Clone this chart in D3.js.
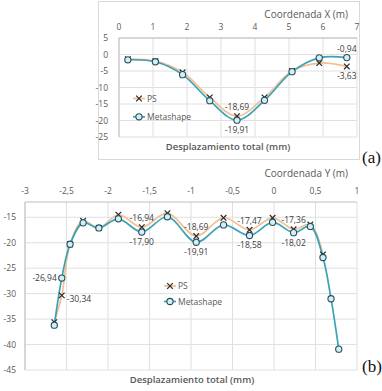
<!DOCTYPE html>
<html>
<head>
<meta charset="utf-8">
<script src="https://cdn.jsdelivr.net/npm/d3@7"></script>
<style>
  body { margin: 0; background: #fff; }
  text { font-family: "Open Sans", sans-serif; }
</style>
</head>
<body>
<div id="chartVis"></div>
<script>
// chart (a) - Coordenada X
const xA = [0.26, 1.07, 1.87, 2.67, 3.47, 4.28, 5.09, 5.89, 6.70];
const psA = [-1.4, -2.0, -5.4, -13.0, -18.69, -13.0, -5.0, -2.6, -3.63];
const metA = [-1.6, -2.2, -6.1, -14.0, -19.91, -13.9, -5.2, -1.0, -0.94];
const xTicksA = [0, 1, 2, 3, 4, 5, 6, 7];
const yTicksA = [5, 0, -5, -10, -15, -20, -25];

// chart (b) - Coordenada Y
const xB = [-2.647, -2.557, -2.457, -2.30, -2.11, -1.875, -1.593, -1.284, -0.937, -0.608, -0.295, -0.017, 0.236, 0.438, 0.59, 0.687, 0.78];
const psB = [-35.6, -30.34, -20.3, -15.7, -17.1, -14.5, -16.94, -14.2, -18.69, -15.1, -17.47, -15.1, -17.36, -16.4, -22.3];
const metB = [-36.2, -26.94, -20.3, -16.1, -17.1, -15.3, -17.90, -14.9, -19.91, -16.5, -18.58, -16.0, -18.02, -16.8, -22.9, -31.0, -40.9];
const xTicksB = [-3, -2.5, -2, -1.5, -1, -0.5, 0, 0.5, 1];
const yTicksB = [-15, -20, -25, -30, -35, -40, -45];

const seriesNames = ["PS", "Metashape"];

// labels: [series, index, text, position]
const labelsA = [
  ["ps", 4, "-18,69", "up"], ["met", 4, "-19,91", "down"],
  ["met", 8, "-0,94", "up"], ["ps", 8, "-3,63", "down"]
];
const labelsB = [
  ["met", 1, "-26,94", "left"], ["ps", 1, "-30,34", "right"],
  ["ps", 6, "-16,94", "up"], ["met", 6, "-17,90", "down"],
  ["ps", 8, "-18,69", "up"], ["met", 8, "-19,91", "down"],
  ["ps", 10, "-17,47", "up"], ["met", 10, "-18,58", "down"],
  ["ps", 12, "-17,36", "up"], ["met", 12, "-18,02", "down"]
];

var width = 382, height = 391;
var svg = d3.select("#chartVis").append("svg")
  .attr("width", width).attr("height", height);

const psColor = "#f3bf93";
const metColor = "#3aa3b6";
const gridColor = "#e0e0e0";
const textColor = "#595959";
const fmt = d => String(d).replace(".", ",");

function drawChart(cfg) {
  const g = svg.append("g");
  const x = d3.scaleLinear().domain(cfg.xDomain).range(cfg.xRange);
  const y = d3.scaleLinear().domain(cfg.yDomain).range(cfg.yRange);

  if (cfg.box) {
    g.append("rect").attr("x", cfg.box[0]).attr("y", cfg.box[1])
      .attr("width", cfg.box[2]).attr("height", cfg.box[3])
      .attr("fill", "none").attr("stroke", "#d9d9d9");
  }

  // gridlines
  g.append("g").selectAll("line").data(cfg.xTicks).enter().append("line")
    .attr("x1", d => x(d)).attr("x2", d => x(d))
    .attr("y1", cfg.yRange[1]).attr("y2", cfg.yRange[0])
    .attr("stroke", gridColor);
  g.append("g").selectAll("line").data(cfg.yTicks).enter().append("line")
    .attr("x1", cfg.xRange[0]).attr("x2", cfg.xRange[1])
    .attr("y1", d => y(d)).attr("y2", d => y(d))
    .attr("stroke", gridColor);
  // axis lines (horizontal axis on top, vertical on left)
  g.append("line").attr("x1", cfg.xRange[0]).attr("x2", cfg.xRange[1])
    .attr("y1", cfg.yRange[1]).attr("y2", cfg.yRange[1]).attr("stroke", "#bfbfbf");
  g.append("line").attr("x1", cfg.xRange[0]).attr("x2", cfg.xRange[0])
    .attr("y1", cfg.yRange[1]).attr("y2", cfg.yRange[0]).attr("stroke", "#bfbfbf");

  // tick labels
  g.append("g").selectAll("text").data(cfg.xTicks).enter().append("text")
    .attr("x", d => x(d)).attr("y", cfg.yRange[1] - 8)
    .attr("text-anchor", "middle").attr("font-size", 8.5).attr("fill", textColor)
    .text(fmt);
  g.append("g").selectAll("text").data(cfg.yTicks).enter().append("text")
    .attr("x", cfg.xRange[0] - cfg.yLabelGap).attr("y", d => y(d) + 3)
    .attr("text-anchor", "end").attr("font-size", 8.5).attr("fill", textColor)
    .text(fmt);

  // titles
  g.append("text").attr("x", cfg.xTitle[0]).attr("y", cfg.xTitle[1])
    .attr("text-anchor", "end").attr("font-size", 10).attr("fill", textColor)
    .text(cfg.xTitleText);
  g.append("text").attr("x", cfg.bTitle[0]).attr("y", cfg.bTitle[1])
    .attr("text-anchor", "middle").attr("font-size", 9.5).attr("font-weight", 600)
    .attr("fill", textColor).text("Desplazamiento total (mm)");

  const line = d3.line().defined(d => d[1] != null)
    .x(d => x(d[0])).y(d => y(d[1])).curve(d3.curveCatmullRom.alpha(0.5));
  const psPts = cfg.ps.map((v, i) => [cfg.xs[i], v]);
  const metPts = cfg.met.map((v, i) => [cfg.xs[i], v]);

  g.append("path").datum(psPts).attr("d", line)
    .attr("fill", "none").attr("stroke", psColor).attr("stroke-width", 1.7);
  g.append("path").datum(metPts).attr("d", line)
    .attr("fill", "none").attr("stroke", metColor).attr("stroke-width", 1.7);

  const cross = (sel) => sel.each(function(d) {
    const s = d3.select(this);
    s.append("line").attr("x1", -2.8).attr("y1", -2.8).attr("x2", 2.8).attr("y2", 2.8);
    s.append("line").attr("x1", -2.8).attr("y1", 2.8).attr("x2", 2.8).attr("y2", -2.8);
  }).attr("stroke", "#2b2b2b").attr("stroke-width", 1.2);

  g.append("g").selectAll("g").data(psPts).enter().append("g")
    .attr("transform", d => "translate(" + x(d[0]) + "," + y(d[1]) + ")")
    .call(cross);
  g.append("g").selectAll("circle").data(metPts).enter().append("circle")
    .attr("cx", d => x(d[0])).attr("cy", d => y(d[1])).attr("r", 3.1)
    .attr("fill", "#d6eef2").attr("stroke", "#24505e").attr("stroke-width", 1.1);

  // data labels
  cfg.labels.forEach(l => {
    const arr = l[0] === "ps" ? cfg.ps : cfg.met;
    const px = x(cfg.xs[l[1]]), py = y(arr[l[1]]);
    let tx = px, ty = py, anchor = "middle";
    if (l[3] === "up") ty = py - 6;
    if (l[3] === "down") ty = py + 13;
    if (l[3] === "left") { tx = px - 5; ty = py + 3; anchor = "end"; }
    if (l[3] === "right") { tx = px + 5; ty = py + 7; anchor = "start"; }
    g.append("text").attr("x", tx).attr("y", ty).attr("text-anchor", anchor)
      .attr("font-size", 8.5).attr("fill", "#404040").text(l[2]);
  });

  // legend
  const lg = g.append("g");
  seriesNames.forEach((name, i) => {
    const ly = cfg.legend[1] + i * cfg.legendGap;
    const lx = cfg.legend[0];
    lg.append("line").attr("x1", lx - 6).attr("x2", lx + 6).attr("y1", ly).attr("y2", ly)
      .attr("stroke", i === 0 ? psColor : metColor).attr("stroke-width", 1.7);
    if (i === 0) {
      lg.append("g").datum([0, 0]).attr("transform", "translate(" + lx + "," + ly + ")").call(cross);
    } else {
      lg.append("circle").attr("cx", lx).attr("cy", ly).attr("r", 3.1)
        .attr("fill", "#d6eef2").attr("stroke", "#24505e").attr("stroke-width", 1.1);
    }
    lg.append("text").attr("x", lx + 8).attr("y", ly + 3).attr("font-size", 8.5)
      .attr("fill", textColor).text(name);
  });

  svg.append("text").attr("x", cfg.tag[0]).attr("y", cfg.tag[1])
    .style("font-family", "'Liberation Serif', serif").attr("font-size", 17)
    .attr("fill", "#111").text(cfg.tagText);
}

drawChart({
  xDomain: [0, 7], xRange: [119, 357], yDomain: [-25, 5], yRange: [137, 38],
  xTicks: xTicksA, yTicks: yTicksA, xs: xA, ps: psA, met: metA, labels: labelsA,
  yLabelGap: 11, xTitle: [348, 18], xTitleText: "Coordenada X (m)", bTitle: [228, 150],
  legend: [139, 98.5], legendGap: 18.3, box: [98.5, 1.5, 261, 158],
  tag: [362, 163], tagText: "(a)"
});

drawChart({
  xDomain: [-3, 1], xRange: [25, 357], yDomain: [-45, -12], yRange: [370, 202],
  xTicks: xTicksB, yTicks: yTicksB, xs: xB, ps: psB, met: metB, labels: labelsB,
  yLabelGap: 9, xTitle: [348, 177], xTitleText: "Coordenada Y (m)", bTitle: [192, 383],
  legend: [170, 286], legendGap: 15.5, box: null,
  tag: [362, 372], tagText: "(b)"
});
</script>
</body>
</html>
